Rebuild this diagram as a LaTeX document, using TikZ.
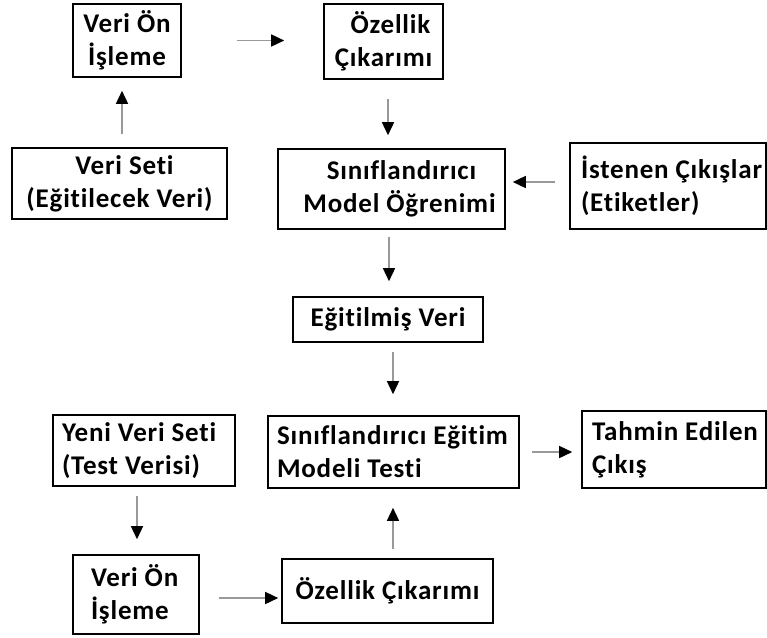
\documentclass[tikz,border=0pt]{standalone}
\usepackage{fontspec}
\setmainfont{Carlito}[BoldFont={Carlito Bold}, Ligatures=NoCommon, LetterSpace=3.0]
\usetikzlibrary{arrows.meta}
\tikzset{
  box/.style={draw=black, line width=1.6pt, inner ysep=0pt, text=black,
    font=\bfseries\fontsize{27}{33}\selectfont},
  arr/.style={draw=gray!80, line width=1.5pt,
    -{Triangle[length=13pt,width=12pt,black]}}
}
\begin{document}
\begin{tikzpicture}[x=1pt,y=-1pt]
\useasboundingbox (0,0) rectangle (767,637);
% training branch
\node[box, minimum width=108, minimum height=73, align=center] (vo1) at (127,40.5) {Veri Ön\\İşleme};
\node[box, minimum width=119, minimum height=75, align=center] (oc1) at (383.5,41.5) {\hspace*{14pt}Özellik\\Çıkarımı};
\node[box, minimum width=215, minimum height=71, align=center] (vs) at (119.5,183.5) {\hspace*{10pt}Veri Seti\\(Eğitilecek Veri)};
\node[box, minimum width=227, minimum height=80, align=center] (smo) at (391.5,189) {\hspace*{20pt}Sınıflandırıcı\\\hspace*{16pt}Model Öğrenimi};
\node[box, minimum width=196, minimum height=86, inner xsep=11pt, text width=174, align=flush left] (ist) at (668,186) {\mbox{İstenen Çıkışlar}\\(Etiketler)};
\node[box, minimum width=190, minimum height=45, align=center] (ev) at (388,319.5) {Eğitilmiş Veri};
% test branch
\node[box, minimum width=251, minimum height=72, inner xsep=9pt, text width=233, align=flush left] (set) at (393.5,452) {Sınıflandırıcı Eğitim\\Modeli Testi};
\node[box, minimum width=184, minimum height=77, inner xsep=10pt, text width=164, align=flush left] (te) at (674,449.5) {\mbox{Tahmin Edilen}\\Çıkış};
\node[box, minimum width=182, minimum height=71, inner xsep=9pt, text width=164, align=flush left] (yvs) at (144,450.5) {Yeni Veri Seti\\(Test Verisi)};
\node[box, minimum width=126, minimum height=79, inner xsep=18pt, text width=90, align=flush left] (vo2) at (136,594.5) {Veri Ön\\İşleme};
\node[box, minimum width=211, minimum height=64, align=center] (oc2) at (387.5,591) {Özellik Çıkarımı};
% connectors
\draw[arr, shorten <=55, shorten >=39] (vo1.east) -- (vo1.east -| oc1.west);
\draw[arr, shorten <=13, shorten >=13] ([xshift=2.5]vs.north) -- ([xshift=2.5]vs.north |- vo1.south);
\draw[arr, shorten <=19, shorten >=13] ([xshift=4.5]oc1.south) -- ([xshift=4.5]oc1.south |- smo.north);
\draw[arr, shorten <=14, shorten >=7] ([yshift=4]ist.west) -- ([yshift=4]ist.west -| smo.east);
\draw[arr, shorten <=7, shorten >=15] ([xshift=-2.5]smo.south) -- ([xshift=-2.5]smo.south |- ev.north);
\draw[arr, shorten <=9, shorten >=21] ([xshift=5]ev.south) -- ([xshift=5]ev.south |- set.north);
\draw[arr, shorten <=9, shorten >=15] ([xshift=-7]yvs.south) -- ([xshift=-7]yvs.south |- vo2.north);
\draw[arr, shorten <=19, shorten >=3] ([yshift=-3.5]vo2.east) -- ([yshift=-3.5]vo2.east -| oc2.west);
\draw[arr, shorten <=9, shorten >=19] ([xshift=5.5]oc2.north) -- ([xshift=5.5]oc2.north |- set.south);
\draw[arr, shorten <=12, shorten >=9] (set.east) -- (set.east -| te.west);
\end{tikzpicture}
\end{document}
